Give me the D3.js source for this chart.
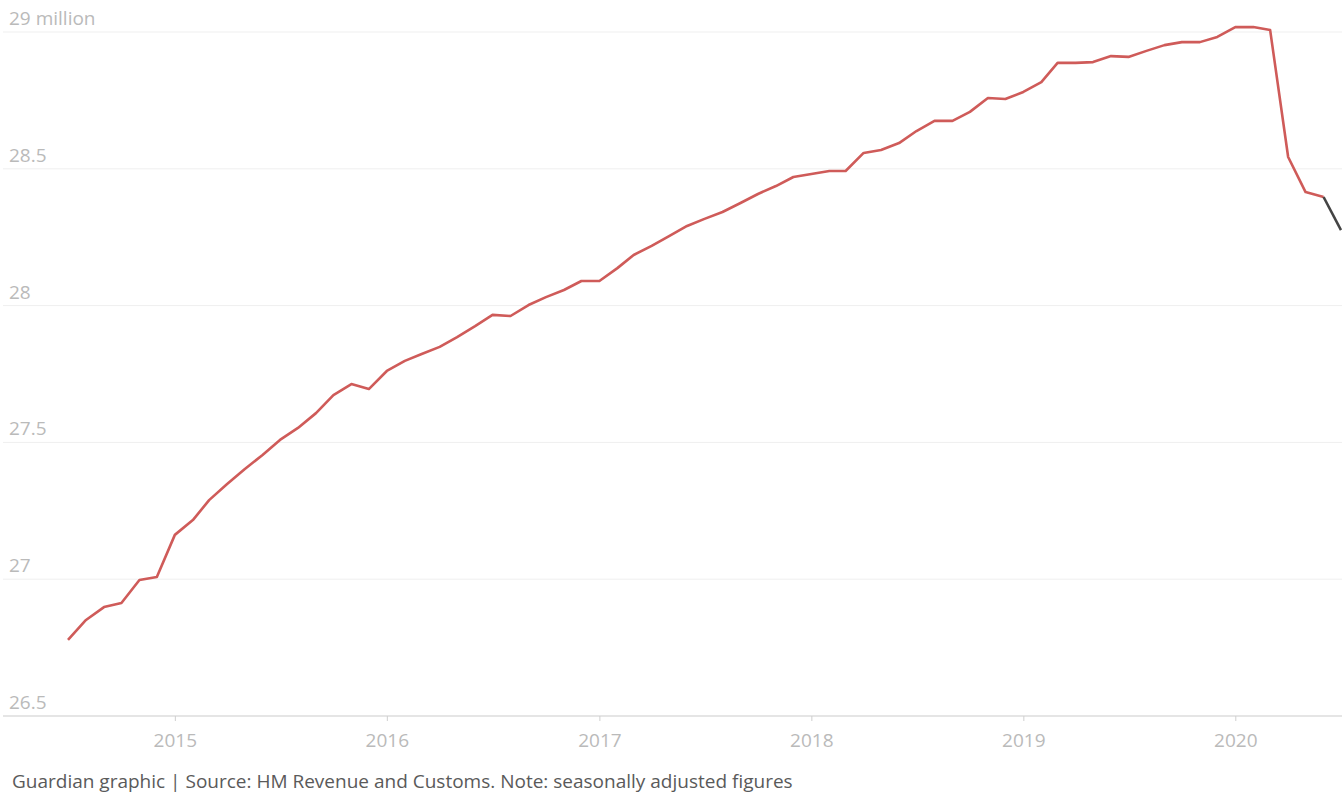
<!DOCTYPE html>
<html>
<head>
<meta charset="utf-8">
<script src="https://cdn.jsdelivr.net/npm/d3@7"></script>
<style>
  body { margin: 0; background: #fff; }
  text { font-family: "Open Sans", Lato, sans-serif; }
</style>
</head>
<body>
<div id="chart"></div>
<script>
// monthly figures, Jul 2014 - Jul 2020 (millions)
var startMonth = "2014-07";
var employees = [
  26.778, 26.851, 26.898, 26.913, 26.997, 27.008,
  27.162, 27.216, 27.289, 27.348, 27.402, 27.454, 27.509, 27.553, 27.607, 27.673, 27.713, 27.695,
  27.761, 27.798, 27.823, 27.849, 27.885, 27.925, 27.966, 27.962, 28.002, 28.031, 28.057, 28.090,
  28.090, 28.137, 28.185, 28.218, 28.254, 28.291, 28.317, 28.342, 28.375, 28.408, 28.437, 28.470,
  28.481, 28.492, 28.492, 28.558, 28.569, 28.594, 28.638, 28.675, 28.675, 28.708, 28.759, 28.755,
  28.781, 28.817, 28.887, 28.887, 28.890, 28.912, 28.909, 28.931, 28.952, 28.963, 28.963, 28.982,
  29.018, 29.018, 29.007, 28.543, 28.415, 28.397, 28.276
];
// last month is provisional (drawn in grey)
var provisionalFrom = 71;
var yTicks = [26.5, 27, 27.5, 28, 28.5, 29];
var yTickLabels = ["26.5", "27", "27.5", "28", "28.5", "29 million"];
var xTickYears = [2015, 2016, 2017, 2018, 2019, 2020];

var W = 1342, H = 796;
var margin = {top: 32, right: 1, bottom: 80, left: 68};

var parseMonth = d3.timeParse("%Y-%m");
var start = parseMonth(startMonth);
var data = employees.map(function(v, i) {
  return {date: d3.timeMonth.offset(start, i), value: v, i: i};
});

var svg = d3.select("#chart")
  .append("svg")
    .attr("width", W)
    .attr("height", H);

var x = d3.scaleTime()
  .domain([data[0].date, data[data.length - 1].date])
  .range([margin.left, W - margin.right]);

var y = d3.scaleLinear()
  .domain([26.5, 29])
  .range([H - margin.bottom, margin.top]);

// gridlines
svg.append("g")
  .selectAll("line")
  .data(yTicks)
  .enter()
  .append("line")
    .attr("x1", 3)
    .attr("x2", W)
    .attr("y1", function(d) { return y(d); })
    .attr("y2", function(d) { return y(d); })
    .attr("stroke", function(d) { return d === 26.5 ? "#dcdcdc" : "#efefef"; })
    .attr("stroke-width", function(d) { return d === 26.5 ? 1.5 : 1; });

// y labels sit above the gridlines
svg.append("g")
  .selectAll("text")
  .data(yTicks)
  .enter()
  .append("text")
    .attr("x", 9)
    .attr("y", function(d) { return y(d) - 7; })
    .attr("fill", "#bababa")
    .style("font-size", "19px")
    .text(function(d, i) { return yTickLabels[i]; });

// x axis ticks + year labels
var xAxis = d3.axisBottom(x)
  .tickValues(xTickYears.map(function(yr) { return new Date(yr, 0, 1); }))
  .tickFormat(d3.timeFormat("%Y"))
  .tickSize(5)
  .tickPadding(13);

var gx = svg.append("g")
  .attr("transform", "translate(0," + y(26.5) + ")")
  .call(xAxis);
gx.select(".domain").remove();
gx.selectAll("line").attr("stroke", "#cfcfcf");
gx.selectAll("text")
  .attr("fill", "#bababa")
  .style("font-size", "19px")
  .style("font-family", "'Open Sans', Lato, sans-serif");

var line = d3.line()
  .x(function(d) { return x(d.date); })
  .y(function(d) { return y(d.value); });

svg.append("path")
  .datum(data.slice(0, provisionalFrom + 1))
  .attr("fill", "none")
  .attr("stroke", "#cf5b59")
  .attr("stroke-width", 2.6)
  .attr("stroke-linejoin", "round")
  .attr("d", line);

svg.append("path")
  .datum(data.slice(provisionalFrom))
  .attr("fill", "none")
  .attr("stroke", "#444")
  .attr("stroke-width", 2.6)
  .attr("d", line);

// footer
svg.append("text")
  .attr("x", 12)
  .attr("y", 788)
  .attr("fill", "#5a5a5a")
  .style("font-size", "19px")
  .text("Guardian graphic | Source: HM Revenue and Customs. Note: seasonally adjusted figures");
</script>
</body>
</html>
